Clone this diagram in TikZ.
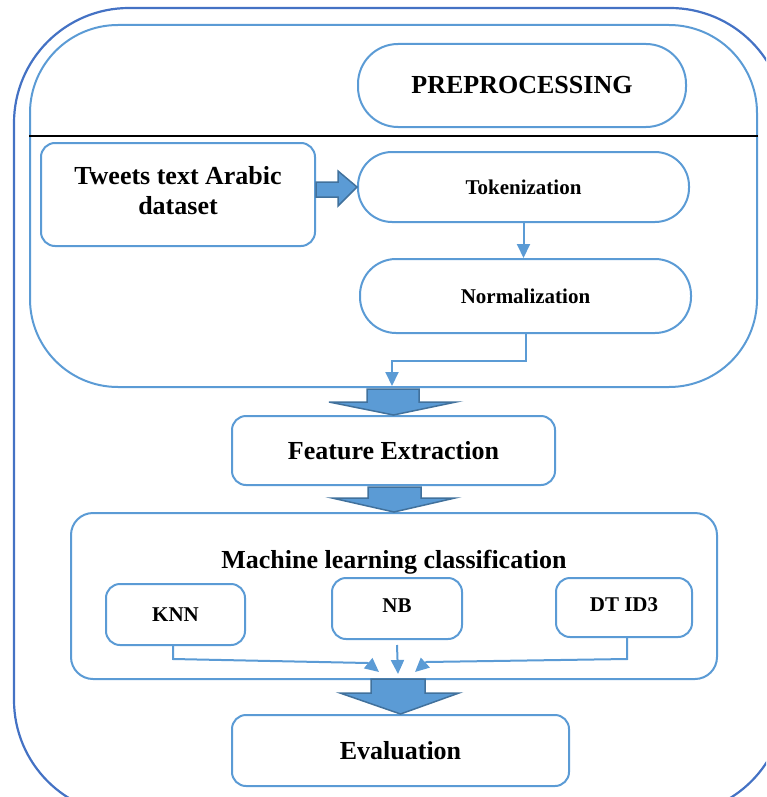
\documentclass[tikz,border=0pt]{standalone}
\usepackage{fontspec}
\setmainfont{Liberation Serif}
\usetikzlibrary{arrows.meta,calc}
\definecolor{lblue}{HTML}{5B9BD5}
\definecolor{dblue}{HTML}{4472C4}
\definecolor{eblue}{HTML}{41719C}
\tikzset{
  big/.style={font=\fontsize{26}{30}\selectfont\bfseries},
  small/.style={font=\fontsize{21}{25}\selectfont\bfseries},
  pill/.style={draw=lblue, line width=2pt, rounded corners=34pt, inner sep=0pt, align=center},
  box/.style={draw=lblue, line width=2pt, rounded corners=14pt, inner sep=0pt, align=center},
  container/.style={draw=lblue, line width=2pt, inner sep=0pt},
  conn/.style={draw=lblue, line width=2pt, -{Triangle[width=13pt,length=14pt]}},
  blockarrow/.style={fill=lblue, draw=eblue, line width=1.5pt, line join=miter},
}
\begin{document}
\begin{tikzpicture}[x=1pt,y=-1pt]
\useasboundingbox (0,0) rectangle (766,797);
\clip (0,0) rectangle (766,797);
% outer frame
\draw[dblue, line width=2.2pt, rounded corners=115pt] (14,8) rectangle (785,815);
% preprocessing container
\node[container, rounded corners=88pt, minimum width=727pt, minimum height=362pt] (prep) at (393.5,206) {};
\draw[black, line width=2pt] (prep.west |- 0,136) -- (prep.east |- 0,136);
\node[pill, big, minimum width=328pt, minimum height=83pt, rounded corners=40pt] (pp) at (522,85.5) {PREPROCESSING};
\node[box, big, minimum width=274pt, minimum height=103pt] (tw) at (178,194.5) {Tweets text Arabic\\dataset\\[-22pt]};
\node[pill, small, minimum width=331pt, minimum height=70pt] (tok) at (523.5,187) {Tokenization};
\node[pill, small, minimum width=331pt, minimum height=74pt, rounded corners=36pt] (norm) at (525.5,296) {Normalization};
% thick arrow tweets -> tokenization
\draw[blockarrow] (tw.east |- 0,182) -- (338,182) -- (338,171) -- (tok.west) -- (338,206) -- (338,197) -- (tw.east |- 0,197) -- cycle;
\draw[conn] (tok.south) -- (tok.south |- norm.north);
\coordinate (e1) at (392,386);
\draw[conn] (norm.south) -- ++(0,27) -| (e1);
% feature extraction
\node[box, big, minimum width=323pt, minimum height=69pt] (fe) at (393.5,450.5) {Feature Extraction};
\draw[blockarrow] (367,389) -- (419,389) -- (419,402) -- (456,402) -- (fe.north) -- (329,402) -- (367,402) -- cycle;
% ML container
\node[container, rounded corners=22pt, minimum width=646pt, minimum height=166pt] (ml) at (394,596) {};
\draw[blockarrow] (368,487) -- (421,487) -- (421,498) -- (455,498) -- (ml.north) -- (332,498) -- (368,498) -- cycle;
\node[big] (mlt) at (394,562) {Machine learning classification};
\node[box, small, minimum width=139pt, minimum height=61pt] (knn) at (175.5,614.5) {KNN};
\node[box, small, minimum width=130pt, minimum height=61pt] (nb) at (397,608.5) {NB\\[-20pt]};
\node[box, small, minimum width=136pt, minimum height=59pt] (dt) at (624,607.5) {DT ID3\\[-20pt]};
\coordinate (k1) at (379,672);
\coordinate (n1) at (398,674);
\coordinate (d1) at (415,672);
\draw[draw=lblue, line width=2pt] (knn.south -| 173,0) -- (173,659) -- (368,663);
\draw[conn] (368,663) -- (k1);
\draw[conn] (nb.south |- 0,645) -- (n1);
\draw[draw=lblue, line width=2pt] (dt.south -| 627,0) -- (627,659) -- (426,662);
\draw[conn] (426,662) -- (d1);
% evaluation
\node[box, big, minimum width=337pt, minimum height=71pt] (ev) at (400.5,750.5) {Evaluation};
\draw[blockarrow] (371,679) -- (425,679) -- (425,693) -- (459,693) -- (ev.north) -- (340,693) -- (371,693) -- cycle;
\end{tikzpicture}
\end{document}
